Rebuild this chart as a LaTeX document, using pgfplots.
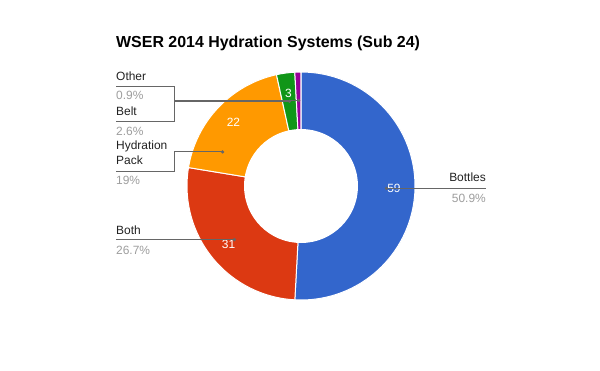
\documentclass[border=0pt]{standalone}
\usepackage{pgfplots}
\pgfplotsset{compat=1.18}
\usepackage{pgfplotstable}
\usepackage{fontspec}
\setmainfont{Liberation Sans}
\definecolor{cA}{HTML}{3366CC}
\definecolor{cB}{HTML}{DC3912}
\definecolor{cC}{HTML}{FF9900}
\definecolor{cD}{HTML}{109618}
\definecolor{cE}{HTML}{990099}
\definecolor{txt}{HTML}{222222}
\definecolor{pct}{HTML}{9E9E9E}
\definecolor{lc}{HTML}{666666}

\pgfplotstableread{
label value pct
Bottles 59 50.9
Both 31 26.7
Pack 22 19
Belt 3 2.6
Other 1 0.9
}\datatable

\begin{document}
\begin{tikzpicture}
\pgfplotstablegetelem{0}{value}\of\datatable\edef\vA{\pgfplotsretval}
\pgfplotstablegetelem{1}{value}\of\datatable\edef\vB{\pgfplotsretval}
\pgfplotstablegetelem{2}{value}\of\datatable\edef\vC{\pgfplotsretval}
\pgfplotstablegetelem{3}{value}\of\datatable\edef\vD{\pgfplotsretval}
\pgfplotstablegetelem{4}{value}\of\datatable\edef\vE{\pgfplotsretval}
\pgfplotstablegetelem{0}{pct}\of\datatable\edef\pA{\pgfplotsretval}
\pgfplotstablegetelem{1}{pct}\of\datatable\edef\pB{\pgfplotsretval}
\pgfplotstablegetelem{2}{pct}\of\datatable\edef\pC{\pgfplotsretval}
\pgfplotstablegetelem{3}{pct}\of\datatable\edef\pD{\pgfplotsretval}
\pgfplotstablegetelem{4}{pct}\of\datatable\edef\pE{\pgfplotsretval}
\pgfmathsetmacro\tot{\vA+\vB+\vC+\vD+\vE}
\pgfmathsetmacro\aA{90}
\pgfmathsetmacro\aB{\aA-360*(\vA/\tot)}
\pgfmathsetmacro\aC{\aB-360*(\vB/\tot)}
\pgfmathsetmacro\aD{\aC-360*(\vC/\tot)}
\pgfmathsetmacro\aE{\aD-360*(\vD/\tot)}
\pgfmathsetmacro\aF{\aE-360*(\vE/\tot)}
\pgfmathsetmacro\mA{(\aA+\aB)/2}
\pgfmathsetmacro\mB{(\aB+\aC)/2}
\pgfmathsetmacro\mC{(\aC+\aD)/2}
\pgfmathsetmacro\mD{(\aD+\aE)/2}
\pgfmathsetmacro\mE{(\aE+\aF)/2}
\def\Ro{114bp}
\def\Ri{57bp}
\fill[white] (0,0) rectangle (600bp,371bp);
\begin{axis}[at={(0,0)}, anchor=south west, x=1bp, y=1bp, xmin=0, xmax=600, ymin=0, ymax=371,
  y dir=reverse, hide axis, clip=false, scale only axis]
\coordinate (O) at (axis cs:301,186);
\coordinate (X116) at (axis cs:116,0);
\coordinate (X174) at (axis cs:174,0);
\coordinate (X486) at (axis cs:486,0);
% wedges
\filldraw[fill=cA, draw=white, line width=1bp] (O) -- ++(\aA:\Ro) arc[start angle=\aA, end angle=\aB, radius=\Ro] -- cycle;
\filldraw[fill=cB, draw=white, line width=1bp] (O) -- ++(\aB:\Ro) arc[start angle=\aB, end angle=\aC, radius=\Ro] -- cycle;
\filldraw[fill=cC, draw=white, line width=1bp] (O) -- ++(\aC:\Ro) arc[start angle=\aC, end angle=\aD, radius=\Ro] -- cycle;
\filldraw[fill=cD, draw=white, line width=1bp] (O) -- ++(\aD:\Ro) arc[start angle=\aD, end angle=\aE, radius=\Ro] -- cycle;
\filldraw[fill=cE, draw=white, line width=1bp] (O) -- ++(\aE:\Ro) arc[start angle=\aE, end angle=\aF, radius=\Ro] -- cycle;
\fill[white] (O) circle[radius=\Ri];
% slice values
\path[font=\fontsize{12}{14}\selectfont, text=white, inner sep=0pt]
  (O) ++(\mA:93bp) node {\vA}
  (O) ++(\mB:93bp) node {\vB}
  (O) ++(\mC:93bp) node {\vC}
  (O) ++(\mD:93bp) node {\vD};
% leader dots
\path (O) ++(\mA:85.5bp) coordinate (dA);
\path (O) ++(\mB:85.5bp) coordinate (dB);
\path (O) ++(156.5:85.5bp) coordinate (dC);
\path (O) ++(\mD:85.5bp) coordinate (dD);
\path (O) ++(\mE:85.5bp) coordinate (dE);
\draw[lc, line width=0.9bp] (dA) -- (dA -| X486);
\draw[lc, line width=0.9bp] (dB) -- (dB -| X116);
\draw[lc, line width=0.9bp] (dC) -- (dC -| X174) -- (axis cs:174,171) -- (axis cs:116,171);
\draw[lc, line width=0.9bp] (dD) -- (dD -| X174) -- (axis cs:174,121) -- (axis cs:116,121);
\draw[lc, line width=0.9bp] (dE) -- (dE -| X174) -- (axis cs:174,86) -- (axis cs:116,86);
\fill[lc] (dA) circle[radius=1.8bp];
\fill[lc] (dB) circle[radius=1.8bp];
\fill[lc] (dC) circle[radius=1.8bp];
\fill[lc] (dD) circle[radius=1.8bp];
\fill[lc] (dE) circle[radius=1.8bp];
% title
\node[anchor=base west, inner sep=0pt, font=\bfseries\fontsize{16}{19}\selectfont] at (axis cs:116,47.5) {WSER 2014 Hydration Systems (Sub 24)};
% labels
\begin{scope}[every node/.style={anchor=base west, inner sep=0pt, font=\fontsize{12}{14}\selectfont}]
\node[text=txt] at (axis cs:116,80) {Other};
\node[text=pct] at (axis cs:116,99.3) {\pE\%};
\node[text=txt] at (axis cs:116,115) {Belt};
\node[text=pct] at (axis cs:116,135) {\pD\%};
\node[text=txt] at (axis cs:116,149.3) {Hydration};
\node[text=txt] at (axis cs:116,164.3) {Pack};
\node[text=pct] at (axis cs:116,184.3) {\pC\%};
\node[text=txt] at (axis cs:116,234) {Both};
\node[text=pct] at (axis cs:116,254) {\pB\%};
\node[text=txt, anchor=base east] at (axis cs:486,181.7) {Bottles};
\node[text=pct, anchor=base east] at (axis cs:486,202) {\pA\%};
\end{scope}
\end{axis}
\pgfresetboundingbox
\path (0,0) rectangle (600bp,371bp);
\end{tikzpicture}
\end{document}
